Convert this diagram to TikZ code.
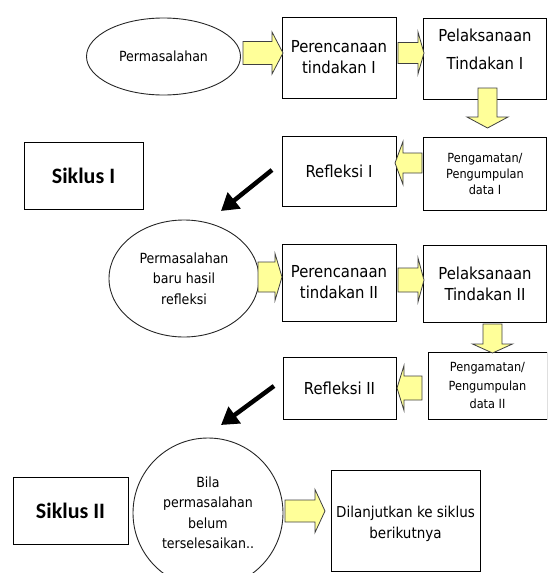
\documentclass[tikz,border=0pt]{standalone}
\usepackage{fontspec}
\usetikzlibrary{shapes.geometric,arrows.meta}
\newfontfamily\tahf{DejaVu Sans Condensed}
\newfontfamily\calf{Carlito}
\definecolor{ayellow}{HTML}{FFFF99}
\definecolor{aline}{HTML}{404040}
\tikzset{
  x=1pt, y=-1pt,
  box/.style={draw, line width=1pt, align=center, inner sep=0pt},
  bigtxt/.style={font=\tahf\fontsize{16.5}{21}\selectfont},
  smalltxt/.style={font=\tahf\fontsize{14}{20.5}\selectfont},
  tinytxt/.style={font=\tahf\fontsize{12.6}{16}\selectfont},
  siklus/.style={font=\calf\bfseries\fontsize{22}{26}\selectfont},
  oval/.style={draw=black!85, line width=0.9pt, ellipse, align=center, inner sep=0pt},
  yarrow/.style={fill=ayellow, draw=aline, line width=0.8pt, line join=miter},
  blk/.style={line width=4.5pt, -{Triangle[length=17pt,width=20pt]}},
  pics/barrow/.style n args={4}{code={
    \draw[yarrow] (0,-#3) -- ({#1-#2},-#3) -- ({#1-#2},-#4) -- (#1,0)
      -- ({#1-#2},#4) -- ({#1-#2},#3) -- (0,#3) -- cycle;
  }}
}
\begin{document}
\begin{tikzpicture}
\useasboundingbox (0,0) rectangle (547,573);
\clip (0,0) rectangle (547,573);
% row 1
\node[oval, smalltxt, minimum width=154pt, minimum height=77pt] (e1) at (163.5,56.5) {Permasalahan};
\node[box, bigtxt, minimum width=114pt, minimum height=81pt] (p1) at (339,57.5) {Perencanaan\\tindakan I};
\node[box, minimum width=123pt, minimum height=81pt] (pel1) at (485,58.5) {};
\node[align=center, inner sep=0pt, font=\tahf\fontsize{16.5}{28}\selectfont] (pel1t) at (485,49) {Pelaksanaan\\Tindakan I};
\node[box, tinytxt, minimum width=123pt, minimum height=73pt] (peng1) at (485,173.5) {Pengamatan/\\Pengumpulan\\data I};
\node[box, bigtxt, minimum width=114pt, minimum height=70pt] (ref1) at (339,171) {Refleksi I};
\node[box, siklus, minimum width=119pt, minimum height=67pt] (sik1) at (83.5,175.5) {Siklus I};
% row 2
\node[oval, smalltxt, minimum width=150pt, minimum height=117pt] (e2) at (184,278.5) {Permasalahan\\baru hasil\\refleksi};
\node[box, bigtxt, minimum width=114pt, minimum height=77pt] (p2) at (339,282.5) {Perencanaan\\tindakan II};
\node[box, bigtxt, minimum width=123pt, minimum height=77pt] (pel2) at (485,283.5) {Pelaksanaan\\Tindakan II};
\node[box, tinytxt, font=\tahf\fontsize{12.6}{18.5}\selectfont, minimum width=119pt, minimum height=67pt] (peng2) at (487.5,385.5) {Pengamatan/\\Pengumpulan\\data II};
\node[box, bigtxt, minimum width=113pt, minimum height=62pt] (ref2) at (339.5,388) {Refleksi II};
% row 3
\node[box, siklus, minimum width=115pt, minimum height=67pt] (sik2) at (70.5,510.5) {Siklus II};
\node[oval, circle, smalltxt, minimum size=150pt] (c3) at (208,513) {Bila\\permasalahan\\belum\\terselesaikan..};
\node[box, minimum width=149pt, minimum height=101pt] (dl) at (405.5,520.5) {};
\node[align=center, inner sep=0pt, font=\tahf\fontsize{15}{21}\selectfont] (dlt) at (405.5,523.5) {Dilanjutkan ke siklus\\berikutnya};
% yellow block arrows
\pic at (243,53) {barrow={40}{11}{11.5}{21}};
\pic at (398,53) {barrow={26}{6}{10.5}{21}};
\pic[rotate=-90] at (487.5,88) {barrow={40}{11}{9.5}{20.5}};
\pic[rotate=180] at (422,163) {barrow={27}{8}{10}{21.5}};
\pic at (258,277) {barrow={24}{7}{15}{23.5}};
\pic at (398,280) {barrow={26}{6}{12}{22}};
\pic[rotate=-90] at (492.5,324) {barrow={29}{9}{9.5}{20}};
\pic[rotate=180] at (422,388) {barrow={25}{7}{12}{22.5}};
\pic at (285,511) {barrow={40}{10}{11}{21.5}};
% black arrows
\coordinate (b1s) at (272,170);
\coordinate (b1e) at (221,211);
\coordinate (b2s) at (274,386);
\coordinate (b2e) at (221,425);
\draw[blk] (b1s) -- (b1e);
\draw[blk] (b2s) -- (b2e);
\end{tikzpicture}
\end{document}
